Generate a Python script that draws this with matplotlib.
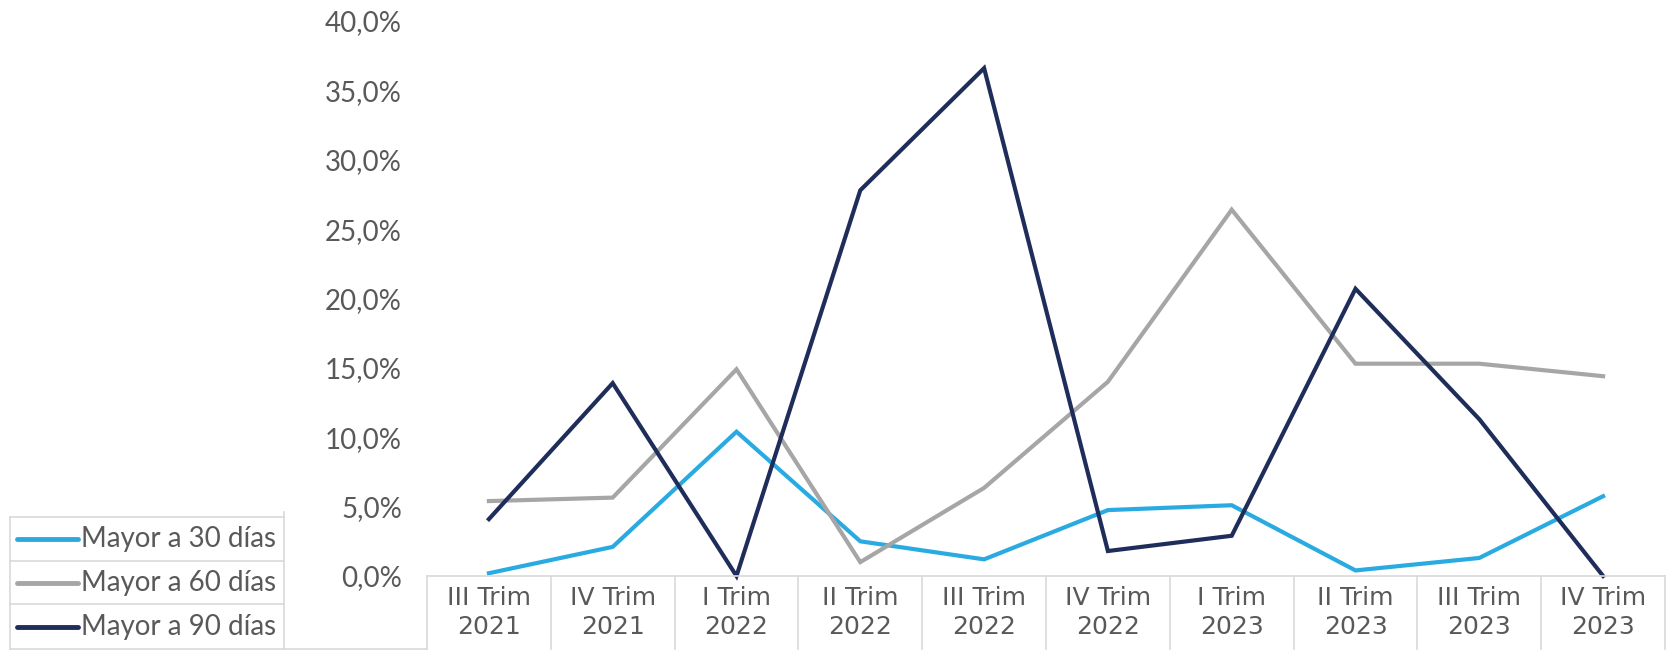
import matplotlib.pyplot as plt
from matplotlib.lines import Line2D
from matplotlib.ticker import FuncFormatter

categories = ["III Trim\n2021", "IV Trim\n2021", "I Trim\n2022", "II Trim\n2022", "III Trim\n2022",
              "IV Trim\n2022", "I Trim\n2023", "II Trim\n2023", "III Trim\n2023", "IV Trim\n2023"]
mayor_30 = [0.2, 2.1, 10.4, 2.5, 1.2, 4.75, 5.1, 0.4, 1.3, 5.75]
mayor_60 = [5.4, 5.65, 14.9, 1.0, 6.35, 14.0, 26.4, 15.3, 15.3, 14.4]
mayor_90 = [4.1, 13.9, 0.0, 27.8, 36.6, 1.8, 2.9, 20.7, 11.3, 0.0]
series_names = ["Mayor a 30 días", "Mayor a 60 días", "Mayor a 90 días"]
colors = ["#29ABE2", "#A6A6A6", "#1F2D5A"]

W, H = 1677, 652
fig = plt.figure(figsize=(W / 100, H / 100), dpi=100)

# pixel helpers (top-left origin)
def fx(px):
    return px / W

def fy(py):
    return 1 - py / H

x0, x1 = 427, 1665
y_top, y_bot = 21, 576
ax = fig.add_axes([fx(x0), fy(y_bot), fx(x1) - fx(x0), fy(y_top) - fy(y_bot)])

xs = range(len(categories))
for vals, name, c in zip([mayor_30, mayor_60, mayor_90], series_names, colors):
    ax.plot(xs, vals, color=c, lw=3, clip_on=False, solid_joinstyle="miter")

ax.set_xlim(-0.5, len(categories) - 0.5)
ax.set_ylim(0, 40)
ax.set_yticks(range(0, 41, 5))
ax.yaxis.set_major_formatter(FuncFormatter(lambda v, p: f"{v:.1f}%".replace(".", ",")))
ax.tick_params(axis="y", length=0, pad=18, labelsize=20, labelcolor="#595959")
for lab in ax.get_yticklabels():
    lab.set_family("Lato")
ax.set_xticks([])
for s in ax.spines.values():
    s.set_visible(False)

grid_c = "#D9D9D9"
def hline(xa, xb, y):
    fig.add_artist(Line2D([fx(xa), fx(xb)], [fy(y), fy(y)], color=grid_c, lw=1.2))

def vline(x, ya, yb):
    fig.add_artist(Line2D([fx(x), fx(x)], [fy(ya), fy(yb)], color=grid_c, lw=1.2))

# category cells under the axis
cell_bot = 649
cw = (x1 - x0) / len(categories)
hline(x0, x1, y_bot)
for i in range(len(categories) + 1):
    vline(x0 + i * cw, y_bot, cell_bot)
for i, cat in enumerate(categories):
    fig.text(fx(x0 + (i + 0.5) * cw), fy((y_bot + cell_bot) / 2), cat, ha="center", va="center",
             fontsize=18, color="#595959", family="Liberation Sans Narrow", linespacing=1.25)

# legend rows on the left
lx0, lx1 = 10, 284
rows = [517, 561, 604, 649]
for r in rows:
    hline(lx0, lx1, r)
hline(lx1, x0, cell_bot)
vline(lx0, rows[0], rows[-1])
vline(lx1, 512, rows[-1])
for i, (name, c) in enumerate(zip(series_names, colors)):
    yc = (rows[i] + rows[i + 1]) / 2
    fig.add_artist(Line2D([fx(17), fx(78)], [fy(yc), fy(yc)], color=c, lw=3.5, solid_capstyle="round"))
    fig.text(fx(81), fy(yc), name, ha="left", va="center", fontsize=20, color="#595959", family="Lato")

fig.savefig("out.png", dpi=100)
